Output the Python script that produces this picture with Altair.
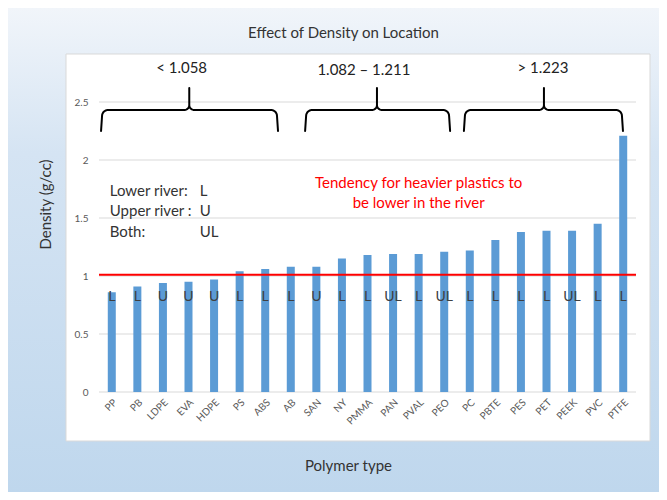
import altair as alt
import pandas as pd
import math

# ---------------- data ----------------
polymers = ["PP", "PB", "LDPE", "EVA", "HDPE", "PS", "ABS", "AB", "SAN", "NY", "PMMA",
            "PAN", "PVAL", "PEO", "PC", "PBTE", "PES", "PET", "PEEK", "PVC", "PTFE"]
density = [0.86, 0.91, 0.94, 0.95, 0.97, 1.04, 1.06, 1.08, 1.08, 1.15, 1.18,
           1.19, 1.19, 1.21, 1.22, 1.31, 1.38, 1.39, 1.39, 1.45, 2.21]
location = ["L", "L", "U", "U", "U", "L", "L", "L", "U", "L", "L",
            "UL", "L", "UL", "L", "L", "L", "L", "UL", "L", "L"]
threshold = 1.01
y_ticks = [0, 0.5, 1, 1.5, 2, 2.5]

group_labels = ["< 1.058", "1.082 \u2013 1.211", "> 1.223"]
group_label_x = [3.23, 10.36, 17.36]
group_label_y = [2.79, 2.776, 2.79]
brace_start = [0.08, 8.06, 14.27]
brace_end = [7.0, 13.73, 20.49]
brace_tip = [3.53, 10.87, 17.40]

legend_keys = ["Lower river:", "Upper river :", "Both:"]
legend_codes = ["L", "U", "UL"]
legend_y = [1.733, 1.56, 1.379]

note_lines = ["Tendency for heavier plastics to", "be lower in the river"]
note_y = [1.80, 1.63]

FONT = "Lato"
W, H = 537, 290
SX = W / 21.0      # px per category unit
SY = H / 2.5       # px per density unit

# ---------------- brace shapes (decoration geometry) ----------------
def brace_points(a, b, t):
    ax, bx, tx = a * SX, b * SX, t * SX
    hy, top, bot = 8.0, -14.0, 29.0
    r, rt = 6.0, 5.0
    pts = [(ax, bot), (ax + 1, hy + r)]
    for i in range(1, 9):
        th = math.radians(180 + 90 * i / 8)
        pts.append((ax + 1 + r + r * math.cos(th), hy + r + r * math.sin(th)))
    pts.append((tx - rt, hy))
    for i in range(1, 9):
        th = math.radians(90 - 90 * i / 8)
        pts.append((tx - rt + rt * math.cos(th), hy - rt + rt * math.sin(th)))
    pts.append((tx, top))
    pts.append((tx, hy - rt))
    for i in range(1, 9):
        th = math.radians(180 - 90 * i / 8)
        pts.append((tx + rt + rt * math.cos(th), hy - rt + rt * math.sin(th)))
    pts.append((bx - 1 - r, hy))
    for i in range(1, 9):
        th = math.radians(270 + 90 * i / 8)
        pts.append((bx - 1 - r + r * math.cos(th), hy + r + r * math.sin(th)))
    pts.append((bx, bot))
    return [(x / SX, 2.5 - y / SY) for x, y in pts]

brace_rows = []
for k in range(3):
    for j, (u, v) in enumerate(brace_points(brace_start[k], brace_end[k], brace_tip[k])):
        brace_rows.append({"brace": k, "order": j, "u": u, "v": v})
braces_df = pd.DataFrame(brace_rows)

bars_df = pd.DataFrame({"polymer": polymers, "density": density, "loc": location})
groups_df = pd.DataFrame({"u": group_label_x, "v": group_label_y, "text": group_labels})
legend_df = pd.DataFrame({"polymer": ["PP"] * 3, "v": legend_y, "key": legend_keys, "code": legend_codes})
note_df = pd.DataFrame({"polymer": ["PVAL"] * 2, "v": note_y, "text": note_lines})
grid_df = pd.DataFrame({"v": y_ticks})

yscale = alt.Scale(domain=[0, 2.5], nice=False, zero=True)
xscale = alt.Scale(domain=polymers, paddingInner=0, paddingOuter=0)
uscale = alt.Scale(domain=[0, 21], nice=False, zero=False)

# ---------------- decoration rects ----------------
one = alt.Data(values=[{"a": 1}])
bg = alt.Chart(one).mark_rect(
    fill=alt.Gradient(
        gradient="linear", x1=0, x2=0, y1=0, y2=1,
        stops=[alt.GradientStop(color="#f1f5fa", offset=0),
               alt.GradientStop(color="#d5e4f3", offset=0.3),
               alt.GradientStop(color="#bfd7ed", offset=1)]),
).encode(x=alt.value(-91), x2=alt.value(W + 23), y=alt.value(-94), y2=alt.value(H + 100))

box = alt.Chart(one).mark_rect(fill="white", stroke="#d9d9d9", strokeWidth=1).encode(
    x=alt.value(-33), x2=alt.value(551), y=alt.value(-48), y2=alt.value(339))

grid = alt.Chart(grid_df).mark_rule(color="#d9d9d9", strokeWidth=1).encode(
    y=alt.Y("v:Q", scale=yscale))

# ---------------- main layers ----------------
bars = alt.Chart(bars_df).mark_bar(size=8, color="#5b9bd5").encode(
    x=alt.X("polymer:N", scale=xscale, sort=polymers,
            axis=alt.Axis(title="Polymer type", labelAngle=-45, labelFontSize=10,
                          labelColor="#595959", labelFont=FONT, labelPadding=5,
                          ticks=False, domain=False, grid=False, zindex=1,
                          titleFont=FONT, titleFontSize=15,
                          titleFontWeight="normal", titleColor="#333333",
                          titleX=249, titleY=73, titleBaseline="middle")),
    y=alt.Y("density:Q", scale=yscale,
            axis=alt.Axis(title="Density (g/cc)", values=y_ticks,
                          format=".1~f", labelFontSize=10, labelColor="#595959",
                          labelFont=FONT, labelPadding=11, ticks=False, domain=False,
                          grid=False, zindex=1, titleFont=FONT,
                          titleFontSize=15, titleFontWeight="normal", titleColor="#333333",
                          titleX=-54, titleY=102, titleBaseline="middle")),
)

codes = alt.Chart(bars_df).mark_text(fontSize=14, font=FONT, color="#404040", baseline="middle").encode(
    x=alt.X("polymer:N", scale=xscale, sort=polymers),
    y=alt.datum(0.819, scale=yscale),
    text="loc:N",
)

rule = alt.Chart(one).mark_rule(color="#ff0000", strokeWidth=2).encode(
    y=alt.datum(threshold, scale=yscale))

legend_keys_t = alt.Chart(legend_df).mark_text(fontSize=15, font=FONT, color="#333333",
                                               align="left", baseline="middle", dx=-2).encode(
    x=alt.X("polymer:N", scale=xscale, sort=polymers),
    y=alt.Y("v:Q", scale=yscale), text="key:N")
legend_codes_t = alt.Chart(legend_df).mark_text(fontSize=15, font=FONT, color="#333333",
                                                align="left", baseline="middle", dx=88).encode(
    x=alt.X("polymer:N", scale=xscale, sort=polymers),
    y=alt.Y("v:Q", scale=yscale), text="code:N")

note = alt.Chart(note_df).mark_text(fontSize=15, font=FONT, color="#ff0000",
                                    align="center", baseline="middle").encode(
    x=alt.X("polymer:N", scale=xscale, sort=polymers),
    y=alt.Y("v:Q", scale=yscale), text="text:N")

nominal_layers = alt.layer(bars, rule, codes, legend_keys_t, legend_codes_t, note)

brace_lines = alt.Chart(braces_df).mark_line(color="black", strokeWidth=2,
                                             strokeJoin="round", strokeCap="round").encode(
    x=alt.X("u:Q", scale=uscale, axis=None),
    y=alt.Y("v:Q", scale=yscale),
    detail="brace:N",
    order="order:Q",
)
group_text = alt.Chart(groups_df).mark_text(fontSize=15, font=FONT, color="#222222",
                                            baseline="middle").encode(
    x=alt.X("u:Q", scale=uscale, axis=None),
    y=alt.Y("v:Q", scale=yscale),
    text="text:N",
)
quant_layers = alt.layer(brace_lines, group_text)

chart = alt.layer(bg, box, grid, nominal_layers, quant_layers).resolve_scale(
    x="independent"
).properties(
    width=W, height=H,
    title=alt.TitleParams("Effect of Density on Location", font=FONT, fontSize=15,
                          fontWeight="normal", color="#333333", anchor="middle",
                          frame="group", dx=-24, dy=37),
    autosize=alt.AutoSizeParams(type="none"),
    padding={"left": 91, "top": 94, "right": 23, "bottom": 100},
).configure_view(stroke=None).configure(background="white")

chart.save("out.html", embed_options={"renderer": "svg", "actions": False})
